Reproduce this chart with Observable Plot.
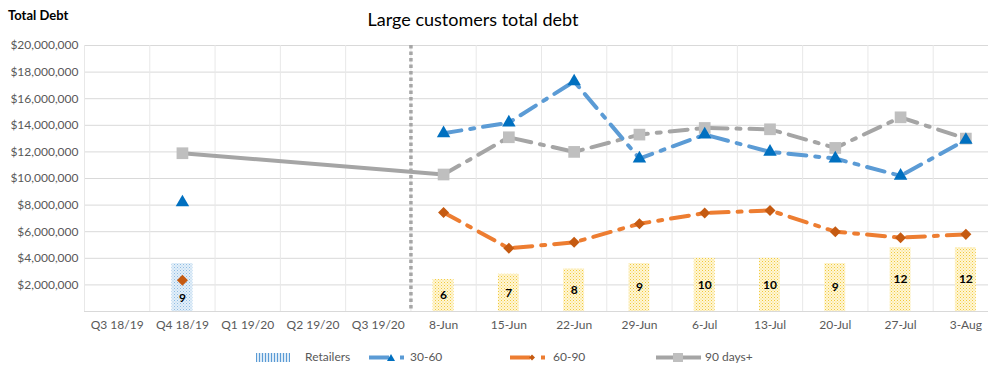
<!DOCTYPE html>
<html><head><meta charset="utf-8">
<script src="https://cdn.jsdelivr.net/npm/d3@7"></script>
<script src="https://cdn.jsdelivr.net/npm/@observablehq/plot@0.6"></script>
<style>
body{margin:0;background:#fff;font-family:Lato,"Open Sans",sans-serif;}
#wrap{position:relative;width:988px;height:366px;overflow:hidden;}
#ytitle{position:absolute;left:8px;top:7px;font-weight:bold;font-size:13px;color:#000;}
#title{position:absolute;left:0;width:946px;text-align:center;top:8px;font-size:18px;color:#000;}
#chart{position:absolute;left:0;top:0;}
.lg{position:absolute;top:349px;font-size:12px;color:#595959;line-height:16px;}
.sw{position:absolute;top:353px;}
</style>
</head><body>
<div id="wrap">
  <div id="chart"></div>
  <div id="ytitle">Total Debt</div>
  <div id="title">Large customers total debt</div>
  <svg class="sw" style="left:256px" width="34" height="9"><rect width="34" height="9" fill="url(#legStripe)"/></svg>
  <div class="lg" style="left:305px">Retailers</div>
  <svg class="sw" style="left:369px" width="36" height="9"><rect x="0" y="2.5" width="20" height="4" fill="#5B9BD5"/><path d="M18,8 L22,1 L26,8Z" fill="#0070C0"/><rect x="31" y="2.5" width="4" height="4" fill="#5B9BD5"/></svg>
  <div class="lg" style="left:410px">30-60</div>
  <svg class="sw" style="left:510px" width="36" height="9"><rect x="0" y="2.5" width="20" height="4" fill="#ED7D31"/><path d="M22,1.5 L25,4.5 L22,7.5 L19,4.5Z" fill="#C55A11"/><rect x="31" y="2.5" width="4" height="4" fill="#ED7D31"/></svg>
  <div class="lg" style="left:553px">60-90</div>
  <svg class="sw" style="left:656px" width="45" height="9"><rect x="0" y="2.5" width="45" height="4" fill="#A5A5A5"/><rect x="17" y="0" width="10" height="9" fill="#BFBFBF"/></svg>
  <div class="lg" style="left:705px">90 days+</div>
</div>
<script>
const categories = ["Q3 18/19","Q4 18/19","Q1 19/20","Q2 19/20","Q3 19/20","8-Jun","15-Jun","22-Jun","29-Jun","6-Jul","13-Jul","20-Jul","27-Jul","3-Aug"];
const retailerCounts = [null,9,null,null,null,6,7,8,9,10,10,9,12,12];
const retailerDebt  = [null,3600000,null,null,null,2400000,2800000,3200000,3600000,4000000,4000000,3600000,4800000,4800000];
const debt30to60    = [null,8200000,null,null,null,13400000,14200000,17300000,11500000,13300000,12000000,11500000,10200000,12900000];
const debt60to90    = [null,2350000,null,null,null,7450000,4750000,5200000,6600000,7400000,7600000,6000000,5550000,5800000];
const debt90plus    = [null,11900000,null,null,null,10300000,13100000,12000000,13300000,13800000,13700000,12300000,14600000,13000000];
const yTicks = [2000000,4000000,6000000,8000000,10000000,12000000,14000000,16000000,18000000,20000000];
const weeklyStart = 5; // index of "8-Jun"

const idx = categories.map((c, i) => i);
const rows = idx.map(i => ({i, cat: categories[i], n: retailerCounts[i], bar: retailerDebt[i], a: debt30to60[i], b: debt60to90[i], c: debt90plus[i]}));
const bars = rows.filter(d => d.bar != null);
const weekly = rows.filter(d => d.i >= weeklyStart);
const quarterBars = bars.filter(d => d.i < weeklyStart);
const weekBars = bars.filter(d => d.i >= weeklyStart);
const pts = rows.filter(d => d.a != null);
const grayBridge = rows.filter(d => d.c != null && d.i <= weeklyStart);
const boundaries = idx.map(i => i - 0.5).concat([categories.length - 0.5]);
const dash = "18,9,4,9";
const halfBar = 0.16;

const chart = Plot.plot({
  width: 988, height: 340,
  marginTop: 45, marginBottom: 29, marginLeft: 84, marginRight: 0,
  style: {fontFamily: "Lato, 'Open Sans', sans-serif", fontSize: "12px", color: "#595959", background: "transparent"},
  x: {type: "linear", domain: [-0.5, categories.length - 0.5], range: [84, 998], label: null},
  y: {domain: [0, 20000000], label: null},
  marks: [
    Plot.gridY(yTicks, {stroke: "#D9D9D9", strokeOpacity: 1}),
    Plot.ruleX(boundaries, {stroke: "#E8E8E8", strokeOpacity: 1}),
    Plot.ruleY([0], {stroke: "#D9D9D9"}),
    Plot.rectY(quarterBars, {x1: d => d.i - halfBar, x2: d => d.i + halfBar, y: "bar", fill: "url(#patBlue)"}),
    Plot.rectY(weekBars, {x1: d => d.i - halfBar, x2: d => d.i + halfBar, y: "bar", fill: "url(#patYellow)"}),
    Plot.ruleX([weeklyStart - 0.5], {stroke: "#A6A6A6", strokeWidth: 3.5, strokeDasharray: "3.5,3"}),
    Plot.line(grayBridge, {x: "i", y: "c", stroke: "#A5A5A5", strokeWidth: 4}),
    Plot.line(weekly, {x: "i", y: "c", stroke: "#A5A5A5", strokeWidth: 4, strokeDasharray: dash}),
    Plot.line(weekly, {x: "i", y: "a", stroke: "#5B9BD5", strokeWidth: 4, strokeDasharray: dash}),
    Plot.line(weekly, {x: "i", y: "b", stroke: "#ED7D31", strokeWidth: 4, strokeDasharray: dash}),
    Plot.dot(pts, {x: "i", y: "c", symbol: "square", r: 6.6, fill: "#BFBFBF"}),
    Plot.dot(pts, {x: "i", y: "a", symbol: "triangle", r: 5, fill: "#0070C0", stroke: "none"}),
    Plot.dot(pts, {x: "i", y: "b", symbol: "square", r: 4.4, rotate: 45, fill: "#C55A11"}),
    Plot.text(weekBars, {x: "i", y: d => d.bar / 2, text: d => String(d.n), fill: "#000", fontWeight: "bold", fontSize: 12}),
    Plot.text(quarterBars, {x: "i", y: d => d.bar / 2, dy: 11, text: d => String(d.n), fill: "#000", fontWeight: "bold", fontSize: 12}),
    Plot.axisY(yTicks, {tickSize: 0, tickPadding: 6, tickFormat: d => "$" + d3.format(",")(d), fill: "#595959", label: null}),
    Plot.axisX(idx, {tickSize: 0, tickPadding: 9, tickFormat: i => categories[i], fill: "#595959", label: null})
  ]
});

d3.select(chart).insert("defs", ":first-child").html(`
  <pattern id="patYellow" width="3" height="3" patternUnits="userSpaceOnUse">
    <rect width="3" height="3" fill="#FFF6D5"/>
    <rect x="0" y="0" width="1" height="1" fill="#F0C93C"/>
    <rect x="1.5" y="1.5" width="1" height="1" fill="#F5D96A"/>
  </pattern>
  <pattern id="patBlue" width="3" height="3" patternUnits="userSpaceOnUse">
    <rect width="3" height="3" fill="#E3EFF9"/>
    <rect x="0" y="0" width="1" height="1" fill="#8DBCE3"/>
    <rect x="1.5" y="1.5" width="1" height="1" fill="#A9CDEC"/>
  </pattern>
  <pattern id="legStripe" width="3" height="9" patternUnits="userSpaceOnUse">
    <rect width="3" height="9" fill="#DDEBF7"/>
    <rect x="0" y="0" width="1" height="9" fill="#5B9BD5"/>
  </pattern>
`);
document.getElementById("chart").appendChild(chart);
</script>
</body></html>
